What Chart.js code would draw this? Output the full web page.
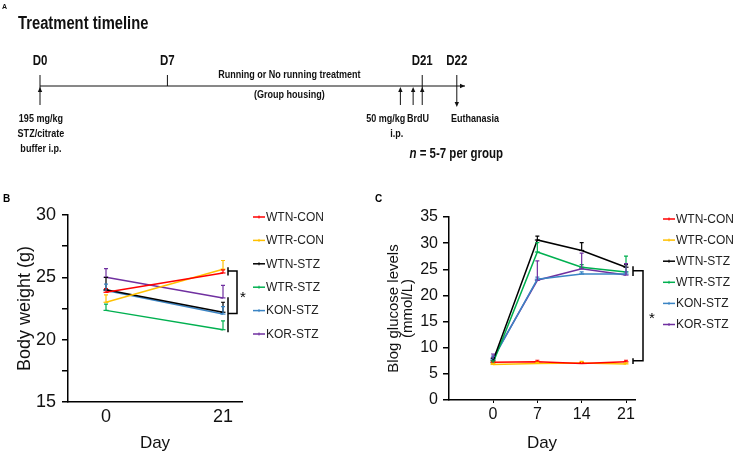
<!DOCTYPE html>
<html>
<head>
<meta charset="utf-8">
<script src="https://cdn.jsdelivr.net/npm/chart.js@4.4.1/dist/chart.umd.min.js"></script>
<style>
    html, body { margin: 0; padding: 0; background: #fff; }
    body { width: 733px; height: 457px; position: relative; overflow: hidden; }
    canvas { position: absolute; }
    #timeline { left: 0; top: 0; }
    #weight { left: 0; top: 170px; }
    #glucose { left: 370px; top: 170px; }
</style>
</head>
<body>
<canvas id="timeline" width="733" height="170"></canvas>
<canvas id="weight" width="370" height="287"></canvas>
<canvas id="glucose" width="363" height="287"></canvas>
<script>
// ---- data ----
const seriesNames = ['WTN-CON', 'WTR-CON', 'WTN-STZ', 'WTR-STZ', 'KON-STZ', 'KOR-STZ'];
const seriesColors = ['#ff0000', '#ffc000', '#000000', '#00b050', '#3b84c4', '#7030a0'];

// panel A: treatment timeline (days)
const tlStart = 0;
const tlEnd = 23.35;
const tlMarkDays = [0, 7, 21, 22.9];
const tlMarkLabels = ['D0', 'D7', 'D21', 'D22'];
const tlInjectDays = [19.8, 20.5];

// panel B: body weight (g)
const weightDays = [0, 21];
const weightTicks = [0, 21];
const weightValues = [
    [23.8, 25.35],   // WTN-CON
    [23.0, 25.65],   // WTR-CON
    [24.0, 22.2],    // WTN-STZ
    [22.35, 20.8],   // WTR-STZ
    [23.95, 22.05],  // KON-STZ
    [25.0, 23.35]    // KOR-STZ
];
const weightErrors = [
    [0.3, 0.25],
    [0.6, 0.7],
    [1.0, 0.8],
    [0.5, 0.7],
    [0.5, 0.6],
    [0.7, 1.0]
];

// panel C: blood glucose (mmol/L)
const glucoseDays = [0, 7, 14, 21];
const glucoseTicks = [0, 7, 14, 21];
const glucoseValues = [
    [7.2, 7.3, 7.0, 7.3],     // WTN-CON
    [6.8, 7.0, 7.1, 6.9],     // WTR-CON
    [7.5, 30.6, 28.6, 25.4],  // WTN-STZ
    [7.1, 28.3, 25.4, 24.5],  // WTR-STZ
    [7.8, 23.1, 24.1, 24.1],  // KON-STZ
    [8.0, 22.9, 25.1, 23.9]   // KOR-STZ
];
const glucoseErrors = [
    [0.2, 0.3, 0.2, 0.3],
    [0.2, 0.2, 0.3, 0.2],
    [0.5, 0.75, 1.5, 0.5],
    [0.4, 1.8, 0.5, 3.0],
    [0.6, 0.4, 0.4, 0.4],
    [0.8, 3.7, 3.0, 2.2]
];

const FONT = "'Liberation Sans', Arial, Helvetica, sans-serif";
Chart.defaults.font.family = FONT;
Chart.defaults.color = '#111';
Chart.defaults.animation = false;

function narrowText(ctx, str, x, y, size, align, style) {
    ctx.save();
    ctx.font = (style || 'bold') + ' ' + size + 'px ' + FONT;
    ctx.textAlign = align || 'center';
    ctx.textBaseline = 'alphabetic';
    ctx.translate(x, y);
    ctx.scale(0.82, 1);
    ctx.fillText(str, 0, 0);
    ctx.restore();
}

function arrowHead(ctx, x, y, dir) {
    const l = 5, w = 2.2;
    ctx.beginPath();
    if (dir === 'up') { ctx.moveTo(x, y); ctx.lineTo(x - w, y + l); ctx.lineTo(x + w, y + l); }
    else if (dir === 'down') { ctx.moveTo(x, y); ctx.lineTo(x - w, y - l); ctx.lineTo(x + w, y - l); }
    else { ctx.moveTo(x, y); ctx.lineTo(x - l, y - w); ctx.lineTo(x - l, y + w); }
    ctx.closePath();
    ctx.fill();
}

function vline(ctx, x, y1, y2) {
    ctx.beginPath();
    ctx.moveTo(x, y1);
    ctx.lineTo(x, y2);
    ctx.stroke();
}

// ---- panel A ----
const timelinePlugin = {
    id: 'timelineMarks',
    afterDraw(chart) {
        const ctx = chart.ctx;
        const xs = chart.scales.x;
        const y0 = chart.scales.y.getPixelForValue(0);
        const px = d => xs.getPixelForValue(d);
        ctx.save();
        ctx.fillStyle = '#111';
        ctx.strokeStyle = '#111';
        ctx.lineWidth = 1;

        ctx.font = 'bold 7px ' + FONT;
        ctx.fillText('A', 2, 9);
        narrowText(ctx, 'Treatment timeline', 18, 29, 18, 'left');

        arrowHead(ctx, px(tlEnd), y0, 'right');

        // D0, D7, D21, D22
        tlMarkDays.forEach((d, i) => {
            const x = px(d);
            narrowText(ctx, tlMarkLabels[i], x, y0 - 21, 14, 'center');
            if (i === 1) {
                vline(ctx, x, y0 - 11, y0);
            } else if (i === 3) {
                vline(ctx, x, y0 - 11, y0 + 16);
                arrowHead(ctx, x, y0 + 21, 'down');
            } else {
                vline(ctx, x, y0 - 11, y0 + 19);
                arrowHead(ctx, x, y0 + 1, 'up');
            }
        });
        tlInjectDays.forEach(d => {
            const x = px(d);
            vline(ctx, x, y0 + 4, y0 + 19);
            arrowHead(ctx, x, y0 + 1, 'up');
        });

        narrowText(ctx, 'Running or No running treatment', px(13.7), y0 - 8, 11);
        narrowText(ctx, '(Group housing)', px(13.7), y0 + 12, 11);
        ['195 mg/kg', 'STZ/citrate', 'buffer i.p.'].forEach((t, i) => {
            narrowText(ctx, t, px(0.05), y0 + 36 + i * 15, 11);
        });
        narrowText(ctx, '50 mg/kg', px(19.0), y0 + 36, 11);
        narrowText(ctx, 'i.p.', px(19.6), y0 + 51, 11);
        narrowText(ctx, 'BrdU', px(20.77), y0 + 36, 11);
        narrowText(ctx, 'Euthanasia', px(23.9), y0 + 36, 11);

        // n = 5-7 per group
        const nx = px(20.3), ny = y0 + 72;
        narrowText(ctx, 'n', nx, ny, 14, 'left', 'italic bold');
        ctx.font = 'italic bold 14px ' + FONT;
        const nw = ctx.measureText('n').width * 0.82;
        narrowText(ctx, ' = 5-7 per group', nx + nw, ny, 14, 'left');
        ctx.restore();
    }
};

new Chart(document.getElementById('timeline'), {
    type: 'line',
    data: {
        datasets: [{
            data: [{ x: tlStart, y: 0 }, { x: tlEnd, y: 0 }],
            borderColor: '#111',
            borderWidth: 1,
            pointRadius: 0
        }]
    },
    options: {
        responsive: false,
        events: [],
        layout: { padding: { left: 40, right: 268, top: 2, bottom: 0 } },
        plugins: { legend: { display: false }, tooltip: { enabled: false } },
        scales: {
            x: { type: 'linear', display: false, min: tlStart, max: tlEnd },
            y: { display: false, min: -1, max: 1 }
        }
    },
    plugins: [timelinePlugin]
});

// ---- panels B and C ----
const errorBars = {
    id: 'errorBars',
    afterDatasetsDraw(chart) {
        const { ctx, scales: { x, y } } = chart;
        ctx.save();
        ctx.lineWidth = 1.2;
        chart.data.datasets.forEach(ds => {
            ctx.strokeStyle = ds.borderColor;
            ds.data.forEach((p, j) => {
                const e = ds.errors[j];
                if (!e) return;
                const px = x.getPixelForValue(p.x);
                const y1 = y.getPixelForValue(p.y);
                const y2 = y.getPixelForValue(p.y + e);
                ctx.beginPath();
                ctx.moveTo(px, y1);
                ctx.lineTo(px, y2);
                ctx.moveTo(px - 2, y2);
                ctx.lineTo(px + 2, y2);
                ctx.stroke();
            });
        });
        ctx.restore();
    }
};

const sideLegend = {
    id: 'sideLegend',
    afterDraw(chart, args, opts) {
        const { ctx, chartArea } = chart;
        ctx.save();
        ctx.font = '12px ' + FONT;
        ctx.textBaseline = 'middle';
        ctx.textAlign = 'left';
        chart.data.datasets.forEach((ds, i) => {
            const y = chartArea.top + opts.dy + i * opts.step;
            const x = chartArea.right + opts.dx;
            ctx.strokeStyle = ds.borderColor;
            ctx.lineWidth = 1.5;
            ctx.beginPath();
            ctx.moveTo(x, y);
            ctx.lineTo(x + 12, y);
            ctx.stroke();
            ctx.lineWidth = 1;
            vline(ctx, x + 6, y - 1.5, y + 1.5);
            ctx.fillStyle = '#222';
            ctx.fillText(ds.label, x + 13, y + 0.5);
        });
        ctx.restore();
    }
};

const sigBracket = {
    id: 'sigBracket',
    afterDraw(chart, args, o) {
        const { ctx, scales: { x, y } } = chart;
        const bx = x.getPixelForValue(o.day);
        const xi = bx + o.dxIn, xo = bx + o.dxOut;
        const yt = y.getPixelForValue(o.top), yb = y.getPixelForValue(o.bottom);
        ctx.save();
        ctx.strokeStyle = '#000';
        ctx.lineWidth = 1.5;
        ctx.beginPath();
        ctx.moveTo(xi, yt);
        ctx.lineTo(xo, yt);
        ctx.lineTo(xo, yb);
        ctx.lineTo(xi, yb);
        ctx.stroke();
        vline(ctx, xi, y.getPixelForValue(o.topStub[0]), y.getPixelForValue(o.topStub[1]));
        vline(ctx, xi, y.getPixelForValue(o.bottomStub[0]), y.getPixelForValue(o.bottomStub[1]));
        ctx.fillStyle = '#000';
        ctx.font = '15px ' + FONT;
        ctx.textAlign = 'center';
        ctx.fillText('*', xo + o.starDx, y.getPixelForValue(o.star) + 8);
        ctx.restore();
    }
};

const panelLetter = {
    id: 'panelLetter',
    afterDraw(chart, args, o) {
        const ctx = chart.ctx;
        ctx.save();
        ctx.fillStyle = '#000';
        ctx.font = 'bold 10px ' + FONT;
        ctx.fillText(o.text, o.x, o.y);
        ctx.restore();
    }
};

function makeDatasets(days, values, errors) {
    return seriesNames.map((name, i) => ({
        label: name,
        data: days.map((d, j) => ({ x: d, y: values[i][j] })),
        errors: errors[i],
        borderColor: seriesColors[i],
        backgroundColor: seriesColors[i],
        borderWidth: 1.5,
        pointStyle: 'line',
        pointRadius: 2.5,
        pointBorderWidth: 1.2,
        tension: 0,
        fill: false
    }));
}

function axisOptions(cfg) {
    return {
        x: {
            type: 'linear',
            min: cfg.xMin,
            max: cfg.xMax,
            afterBuildTicks: s => { s.ticks = cfg.xTicks.map(v => ({ value: v })); },
            afterFit: s => { s.height = cfg.xHeight; },
            grid: { display: cfg.xTickLen > 0, drawOnChartArea: false, drawTicks: cfg.xTickLen > 0,
                    tickLength: cfg.xTickLen, color: '#000', lineWidth: 1 },
            border: { display: true, color: '#000', width: 1.5 },
            ticks: { font: { size: cfg.tickSize }, color: '#111', padding: cfg.xPad, maxRotation: 0 },
            title: { display: true, text: 'Day', color: '#111', font: { size: 17 },
                     padding: { top: 0, bottom: 3 } }
        },
        y: {
            min: cfg.yMin,
            max: cfg.yMax,
            afterFit: s => { s.width = cfg.yWidth; },
            grid: { drawOnChartArea: false, tickLength: 6, color: '#000', lineWidth: 1.5 },
            border: { display: true, color: '#000', width: 1.5 },
            ticks: {
                stepSize: cfg.yStep,
                autoSkip: false,
                font: { size: cfg.tickSize },
                color: '#111',
                padding: cfg.yPad,
                callback: v => (v % cfg.yLabelEvery === 0 ? v : '')
            },
            title: { display: true, text: cfg.yTitle, color: '#111',
                     font: { size: cfg.yTitleSize, lineHeight: cfg.yTitleLH },
                     padding: { top: cfg.yTitlePad, bottom: 0 } }
        }
    };
}

new Chart(document.getElementById('weight'), {
    type: 'line',
    data: { datasets: makeDatasets(weightDays, weightValues, weightErrors) },
    options: {
        responsive: false,
        events: [],
        layout: { padding: { left: 0, right: 128, top: 45, bottom: 0 } },
        plugins: {
            legend: { display: false },
            tooltip: { enabled: false },
            sideLegend: { dx: 11, dy: 2, step: 23.4 },
            sigBracket: { day: 21, dxIn: 5, dxOut: 14, top: 25.5, bottom: 22.1,
                          topStub: [25.8, 25.15], bottomStub: [23.4, 20.6], starDx: 6, star: 23.7 },
            panelLetter: { text: 'B', x: 3, y: 32 }
        },
        scales: axisOptions({
            xMin: -6.82, xMax: 24.41, xTicks: weightTicks, xHeight: 55, xTickLen: 0, xPad: 4,
            yMin: 15, yMax: 30, yStep: 2.5, yLabelEvery: 5, yWidth: 68, yPad: 6,
            tickSize: 18, yTitle: 'Body weight (g)', yTitleSize: 18, yTitleLH: 1.2, yTitlePad: 14
        })
    },
    plugins: [errorBars, sideLegend, sigBracket, panelLetter]
});

new Chart(document.getElementById('glucose'), {
    type: 'line',
    data: { datasets: makeDatasets(glucoseDays, glucoseValues, glucoseErrors) },
    options: {
        responsive: false,
        events: [],
        layout: { padding: { left: 0, right: 98, top: 47, bottom: 0 } },
        plugins: {
            legend: { display: false },
            tooltip: { enabled: false },
            sideLegend: { dx: 28, dy: 2, step: 21.1 },
            sigBracket: { day: 21, dxIn: 7, dxOut: 17, top: 24.7, bottom: 7.5,
                          topStub: [25.6, 23.7], bottomStub: [8.0, 6.9], starDx: 9, star: 16.2 },
            panelLetter: { text: 'C', x: 5, y: 32 }
        },
        scales: axisOptions({
            xMin: -6.95, xMax: 22.42, xTicks: glucoseTicks, xHeight: 57, xTickLen: 3, xPad: 2,
            yMin: 0, yMax: 35, yStep: 5, yLabelEvery: 5, yWidth: 79, yPad: 5,
            tickSize: 16, yTitle: ['Blog glucose levels', '(mmol/L)'], yTitleSize: 15,
            yTitleLH: 0.95, yTitlePad: 16.5
        })
    },
    plugins: [errorBars, sideLegend, sigBracket, panelLetter]
});
</script>
</body>
</html>
